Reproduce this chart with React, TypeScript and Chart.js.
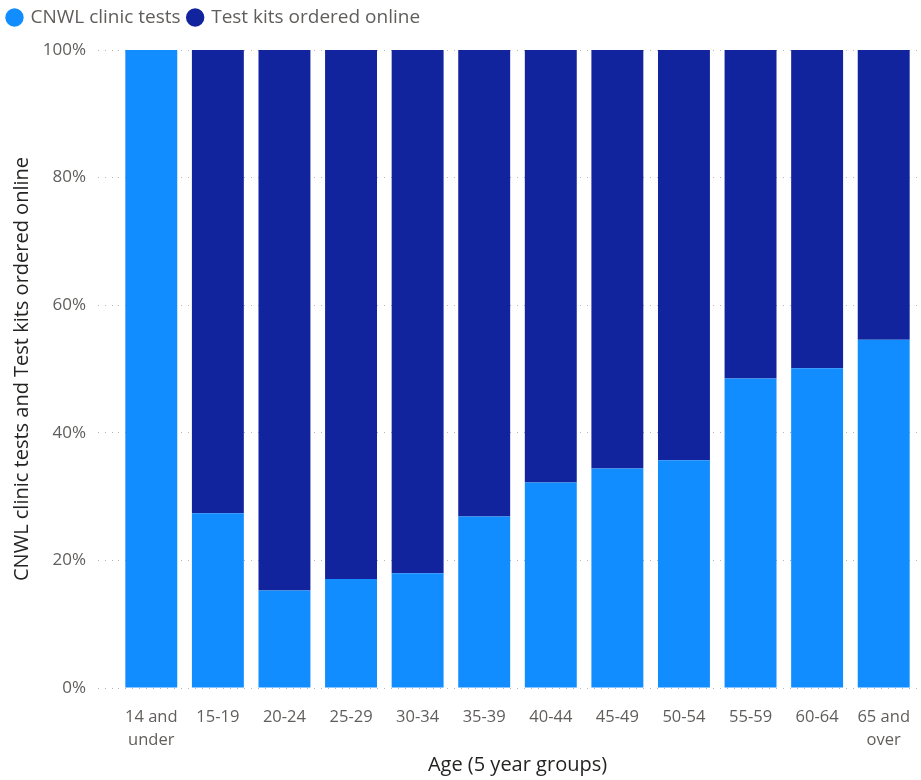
import React, { useEffect, useRef } from "react";
import { Chart, registerables } from "chart.js";

Chart.register(...registerables);

const categories: (string | string[])[] = [
  ["14 and", "under"],
  "15-19",
  "20-24",
  "25-29",
  "30-34",
  "35-39",
  "40-44",
  "45-49",
  "50-54",
  "55-59",
  "60-64",
  ["65 and", "over"],
];

const clinicTests = [100, 27.4, 15.3, 17.1, 18.0, 26.9, 32.2, 34.4, 35.7, 48.5, 50.1, 54.6];
const onlineKits = [0, 72.6, 84.7, 82.9, 82.0, 73.1, 67.8, 65.6, 64.3, 51.5, 49.9, 45.4];

const yTicks = [0, 20, 40, 60, 80, 100];

const FONT = "'Segoe UI', 'Open Sans', sans-serif";

const legendSpacer = {
  id: "legendSpacer",
  afterInit(chart: any) {
    const legend = chart.legend;
    if (!legend) return;
    const orig = legend.fit;
    legend.fit = function () {
      orig.call(this);
      this.height += 13;
    };
  },
};

export default function App() {
  const ref = useRef<HTMLCanvasElement | null>(null);

  useEffect(() => {
    if (!ref.current) return;
    const chart = new Chart(ref.current, {
      type: "bar",
      data: {
        labels: categories,
        datasets: [
          {
            label: "CNWL clinic tests",
            data: clinicTests,
            backgroundColor: "#118DFF",
            categoryPercentage: 1,
            barPercentage: 0.78,
          },
          {
            label: "Test kits ordered online",
            data: onlineKits,
            backgroundColor: "#12239E",
            categoryPercentage: 1,
            barPercentage: 0.78,
          },
        ],
      },
      plugins: [legendSpacer],
      options: {
        animation: false,
        responsive: true,
        maintainAspectRatio: false,
        layout: { padding: { left: 0, right: 4, top: 0, bottom: 0 } },
        plugins: {
          legend: {
            position: "top",
            align: "start",
            labels: {
              usePointStyle: true,
              pointStyle: "circle",
              boxWidth: 13,
              boxHeight: 13,
              padding: 8,
              color: "#605E5C",
              font: { family: FONT, size: 19 },
            },
          },
          tooltip: { enabled: false },
        },
        scales: {
          x: {
            stacked: true,
            grid: { display: false },
            border: { display: false },
            afterFit: (axis: any) => {
              axis.height = 92;
            },
            ticks: {
              color: "#605E5C",
              font: { family: FONT, size: 16.5, lineHeight: 1.4 },
              maxRotation: 0,
              autoSkip: false,
              padding: 10,
            },
            title: {
              display: true,
              text: "Age (5 year groups)",
              color: "#252423",
              font: { family: FONT, size: 20 },
              padding: { top: 0, bottom: 3 },
            },
          },
          y: {
            stacked: true,
            min: 0,
            max: 100,
            afterBuildTicks: (axis: any) => {
              axis.ticks = yTicks.map((v) => ({ value: v }));
            },
            afterFit: (axis: any) => {
              axis.width = 118;
            },
            grid: {
              color: "#B8B6B4",
              tickColor: "#B8B6B4",
              tickLength: 20,
              lineWidth: 1,
              tickBorderDash: [1, 6],
            },
            border: { display: false, dash: [1, 6] },
            ticks: {
              color: "#605E5C",
              font: { family: FONT, size: 17 },
              padding: 12,
              callback: (v: any) => v + "%",
            },
            title: {
              display: true,
              text: "CNWL clinic tests and Test kits ordered online",
              color: "#252423",
              font: { family: FONT, size: 20 },
              padding: { top: 10, bottom: 0 },
            },
          },
        },
      },
    });
    return () => chart.destroy();
  }, []);

  return (
    <div style={{ position: "absolute", left: 0, top: 0, width: 921, height: 780, background: "#fff" }}>
      <canvas ref={ref} />
    </div>
  );
}
